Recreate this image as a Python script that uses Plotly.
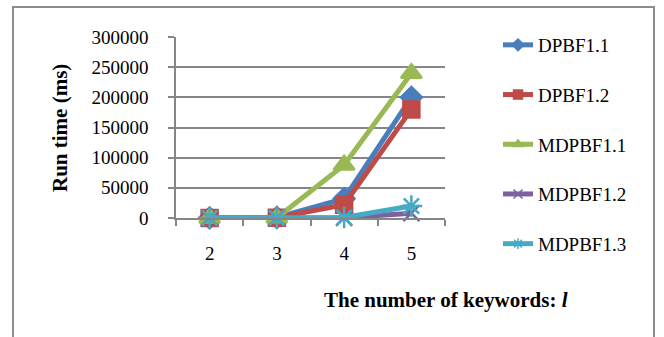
import plotly.graph_objects as go

categories = ["2", "3", "4", "5"]
series_names = ["DPBF1.1", "DPBF1.2", "MDPBF1.1", "MDPBF1.2", "MDPBF1.3"]
dpbf11 = [300, 800, 32000, 200000]
dpbf12 = [200, 500, 22000, 180000]
mdpbf11 = [100, 300, 88000, 240000]
mdpbf12 = [50, 100, 300, 8000]
mdpbf13 = [50, 100, 800, 20000]
y_ticks = [0, 50000, 100000, 150000, 200000, 250000, 300000]

values = [dpbf11, dpbf12, mdpbf11, mdpbf12, mdpbf13]
colors = ["#4A7EBB", "#BE4B48", "#98B954", "#7D60A0", "#46AAC5"]
symbols = ["diamond", "square", "triangle-up", "x-thin-open", "asterisk-open"]
sizes = [16, 16, 18, 16, 18]
legend_sizes = [9, 9, 9, 9, 9]

FONT = "Liberation Serif"
fig = go.Figure()
for name, vals, c, s, sz in zip(series_names, values, colors, symbols, sizes):
    fig.add_trace(go.Scatter(
        x=categories, y=vals, mode="lines+markers", name=name,
        line=dict(color=c, width=5),
        marker=dict(symbol=s, size=sz, color=c, line=dict(color=c, width=2.5)),
        showlegend=False, cliponaxis=False,
    ))
for i, (name, c, s, sz) in enumerate(zip(series_names, colors, symbols, legend_sizes)):
    fig.add_trace(go.Scatter(
        x=[None], y=[None], mode="lines+markers", name=name,
        line=dict(color=c, width=5),
        marker=dict(symbol=s, size=sz, color=c, line=dict(color=c, width=1.5)),
        legendgroup=f"g{i}",
    ))

L, R, T, B = 176, 445, 37, 218
W, H = 664, 337
pw, ph = R - L, B - T

def px(x):
    return (x - L) / pw

def py(y):
    return (B - y) / ph

fig.update_layout(
    width=W, height=H,
    margin=dict(l=L, r=W - R, t=T, b=H - B, pad=0),
    paper_bgcolor="white", plot_bgcolor="white",
    font=dict(family=FONT, size=19, color="black"),
    showlegend=True,
    legend=dict(x=px(498), y=py(26), xanchor="left", yanchor="top",
                font=dict(family=FONT, size=19), tracegroupgap=22,
                maxheight=330, bgcolor="rgba(0,0,0,0)"),
    xaxis=dict(type="category", categoryorder="array", categoryarray=categories,
               range=[-0.5, 3.5], showgrid=False, showline=True,
               linecolor="#868686", linewidth=1.5,
               ticks="outside", tickson="boundaries", ticklen=6,
               tickcolor="#868686", tickwidth=1.5,
               ticklabelstandoff=17,
               tickfont=dict(family=FONT, size=19)),
    yaxis=dict(range=[0, 300000], tickvals=y_ticks, tickformat="d",
               showgrid=True, gridcolor="#868686", gridwidth=1.5,
               showline=True, linecolor="#868686", linewidth=1.5,
               ticks="outside", ticklen=6, tickcolor="#868686", tickwidth=1.5,
               ticklabelstandoff=16, zeroline=False,
               tickfont=dict(family=FONT, size=19)),
    annotations=[
        dict(text="<b>Run time (ms)</b>", xref="paper", yref="paper",
             x=px(60), y=py(128), textangle=-90, showarrow=False,
             font=dict(family=FONT, size=21), xanchor="center", yanchor="middle"),
        dict(text="<b>The number of keywords: <i>l</i></b>", xref="paper", yref="paper",
             x=px(446), y=py(300), showarrow=False,
             font=dict(family=FONT, size=21), xanchor="center", yanchor="middle"),
    ],
    shapes=[dict(type="rect", xref="paper", yref="paper",
                 x0=px(13), x1=px(654), y0=py(345), y1=py(7),
                 line=dict(color="#8C8C8C", width=2), layer="below")],
)

fig.write_html("out.html")
